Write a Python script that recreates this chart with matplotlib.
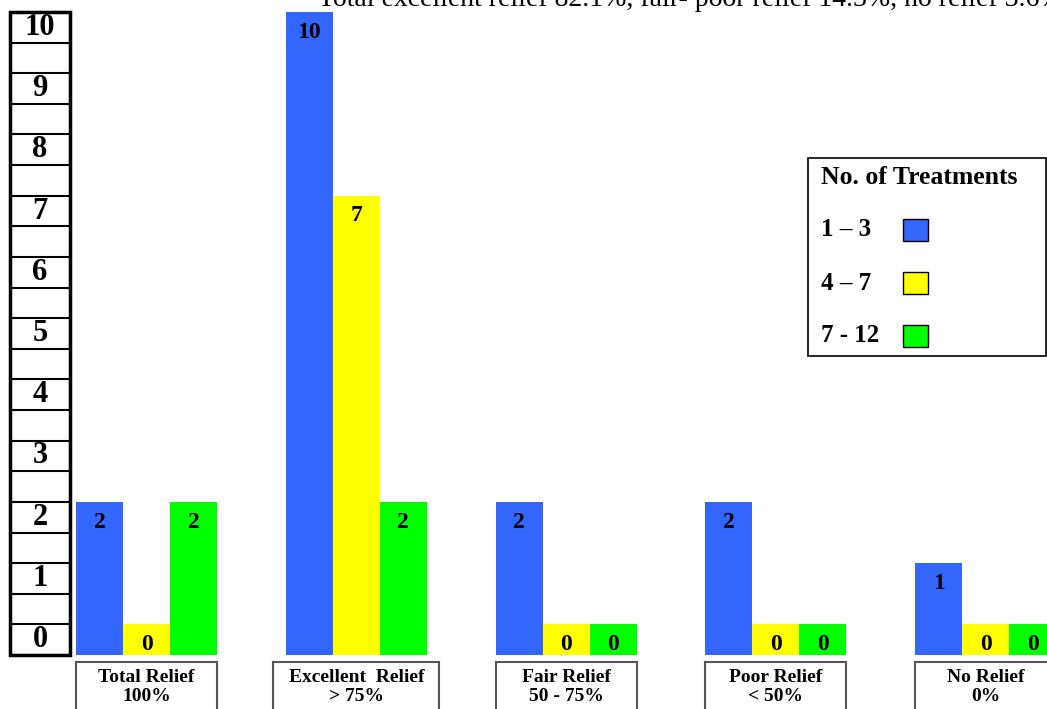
import numpy as np
import matplotlib.pyplot as plt
from matplotlib.patches import Rectangle

plt.rcParams['font.family'] = ['Liberation Serif', 'DejaVu Serif']

# categories and counts per treatment band
categories = ['Total Relief\n100%', 'Excellent  Relief\n> 75%', 'Fair Relief\n50 - 75%',
              'Poor Relief\n< 50%', 'No Relief\n0%']
series = ['1 \u2013 3', '4 \u2013 7', '7 - 12']
counts_1_3 = [2, 10, 2, 2, 1]
counts_4_7 = [0, 7, 0, 0, 0]
counts_7_12 = [2, 2, 0, 0, 0]
colors = ['#3366ff', '#ffff00', '#00ff00']
y_ticks = list(range(11))
title = 'Total excellent relief 82.1%, fair- poor relief 14.3%, no relief 3.6%'

W, H = 1047, 709
fig = plt.figure(figsize=(W / 100, H / 100), dpi=100)
# axes spans the full width; y range maps 655px..12px
ax = fig.add_axes([0, 1 - 655 / H, 1, (655 - 12) / H])
px_per_x = 209.75
x0 = 146.6
ax.set_xlim(-x0 / px_per_x, (W - x0) / px_per_x)
ax.set_ylim(-0.5, 10)
ax.axis('off')
px_per_y = (655 - 12) / 10.5

x = np.arange(len(categories))
bw = 47 / px_per_x
for k, vals in enumerate([counts_1_3, counts_4_7, counts_7_12]):
    vals = np.array(vals)
    xs = x + (k - 1) * bw
    # every box starts half a step below zero so an empty band still shows
    ax.bar(xs, vals + 0.5, bottom=-0.5, width=bw, color=colors[k], linewidth=0)
    for xi, v in zip(xs, vals):
        ax.annotate(str(v), (xi, v), xytext=(0, -7), textcoords='offset points',
                    ha='center', va='top', fontsize=17, fontweight='bold')

# boxed scale on the left
ytr = ax.get_yaxis_transform()
left, right = 10 / W, 70 / W
for t in y_ticks:
    ax.add_patch(Rectangle((left, t - 0.5), right - left, 0.5, transform=ytr,
                           fill=False, lw=1.5, ec='black', clip_on=False))
    ax.text((left + right) / 2, t - 0.25, str(t), transform=ytr, ha='center', va='center',
            fontsize=22, fontweight='bold')
ax.add_patch(Rectangle((left, -0.5), right - left, 10.5, transform=ytr,
                       fill=False, lw=2.5, ec='black', clip_on=False))

# category boxes under the groups, running off the bottom edge
box_w = [3 * bw, 166 / px_per_x, 3 * bw, 3 * bw, 3 * bw]
box_top = -0.5 - 7 / px_per_y
for xi, lab, bwid in zip(x, categories, box_w):
    ax.add_patch(Rectangle((xi - bwid / 2, -1.6), bwid, box_top + 1.6,
                           fill=False, lw=1.5, ec='#555555', clip_on=False))
    ax.text(xi, box_top - 7 / px_per_y, lab, ha='center', va='top', fontsize=14,
            fontweight='bold', linespacing=1.12)

fig.text(318 / W, 1 - 6 / H, title, ha='left', va='baseline', fontsize=20)

# legend panel
fig.patches.append(Rectangle((808 / W, 1 - 356 / H), 238 / W, 198 / H, transform=fig.transFigure,
                             fill=False, lw=1.2, ec='black'))
fig.text(821 / W, 1 - 177 / H, 'No. of Treatments', ha='left', va='center',
         fontsize=18.5, fontweight='bold')
for k, (name, c) in enumerate(zip(series, colors)):
    yc = 230 + 53 * k
    fig.text(821 / W, 1 - yc / H, name, ha='left', va='center', fontsize=18, fontweight='bold')
    fig.patches.append(Rectangle((903 / W, 1 - (yc + 11) / H), 25 / W, 22 / H,
                                 transform=fig.transFigure, fc=c, ec='black', lw=1))

fig.savefig('out.png', dpi=100)
